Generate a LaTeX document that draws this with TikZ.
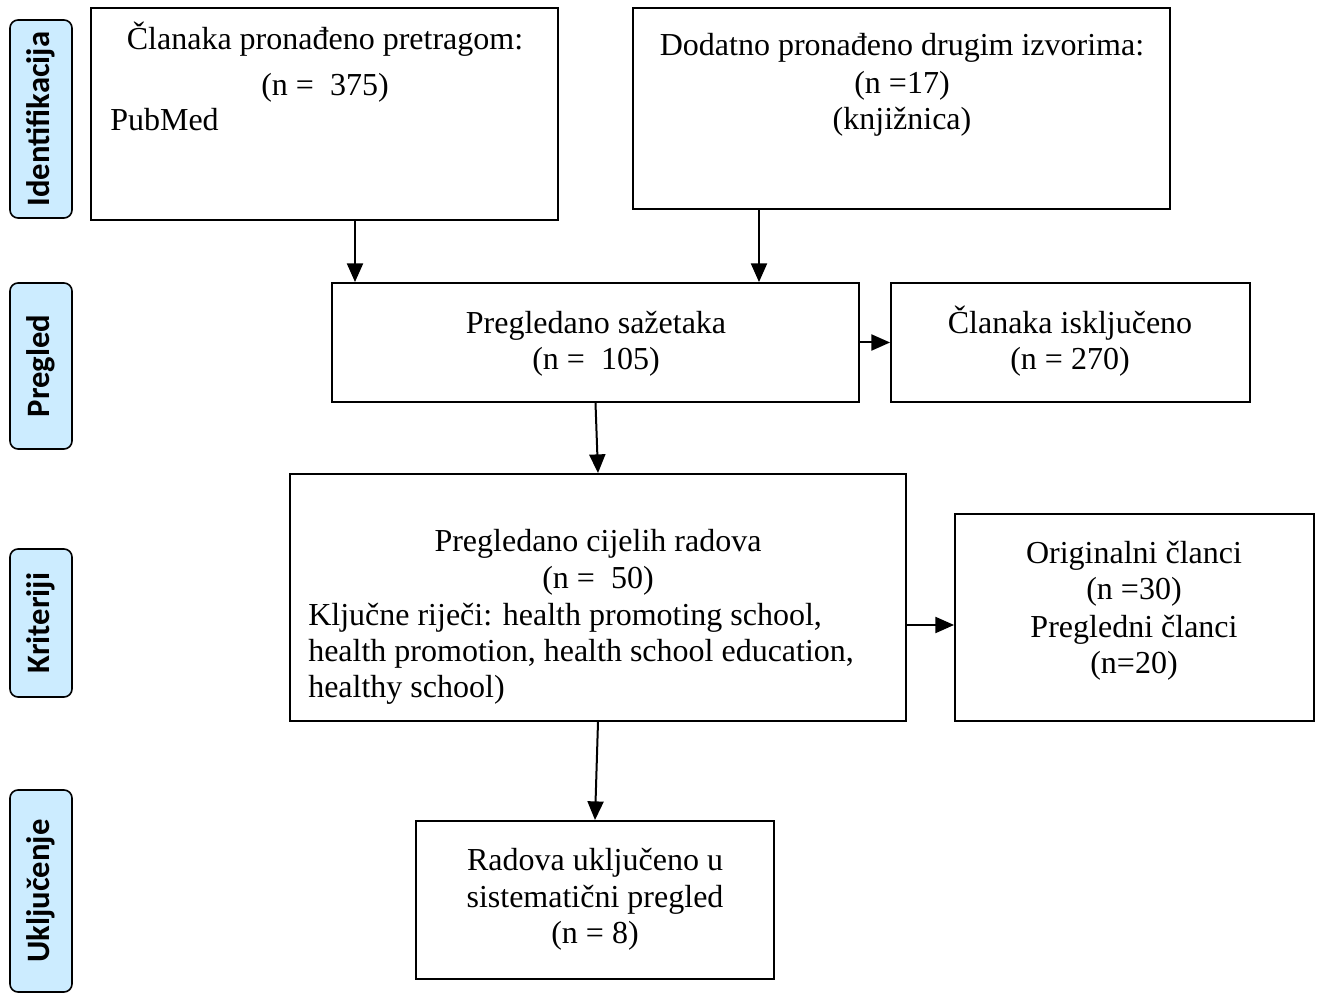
\documentclass[tikz,border=0pt]{standalone}
\usepackage{fontspec}
\setmainfont{Liberation Serif}
\newfontfamily\lblfont{Carlito}
\usetikzlibrary{arrows.meta,calc}
\definecolor{lblblue}{RGB}{204,236,255}
\begin{document}
\begin{tikzpicture}[x=0.75pt,y=-0.75pt,
  box/.style={draw,line width=1.4pt,inner sep=0pt,rectangle},
  lbl/.style={draw,line width=1.2pt,fill=lblblue,rounded corners=6pt,rotate=90,inner sep=0pt,minimum height=46.5pt,font=\lblfont\bfseries\fontsize{24.5}{28}\selectfont},
  txt/.style={anchor=base,inner sep=0pt,font=\fontsize{24}{28}\selectfont},
  txtl/.style={txt,anchor=base west},
  arr/.style={line width=1.5pt,-{Triangle[length=14pt,width=12pt]}}]
\useasboundingbox (0,0) rectangle (1322,994);
% side labels
\node[lbl,minimum width=148.5pt] (l1) at (41,119) {Identifikacija};
\node[lbl,minimum width=124.5pt] (l2) at (41,366) {Pregled};
\node[lbl,minimum width=111pt] (l3) at (41,623) {Kriteriji};
\node[lbl,minimum width=151.5pt] (l4) at (41,891) {Uključenje};
% boxes
\node[box,minimum width=350.25pt,minimum height=159pt] (b1) at (324.5,114) {};
\node[box,minimum width=402.75pt,minimum height=150.75pt] (b2) at (901.5,108.5) {};
\node[box,minimum width=395.25pt,minimum height=89.25pt] (b3) at (595.5,342.5) {};
\node[box,minimum width=269.25pt,minimum height=89.25pt] (b4) at (1070.5,342.5) {};
\node[box,minimum width=462pt,minimum height=185.25pt] (b5) at (598,597.5) {};
\node[box,minimum width=269.25pt,minimum height=155.25pt] (b6) at (1134.5,617.5) {};
\node[box,minimum width=268.5pt,minimum height=118.5pt] (b7) at (595,900) {};
% texts
\node[txt] (t11) at (325,50) {Članaka pronađeno pretragom:};
\node[txt] (t12) at (325,96) {(n = \ 375)};
\node[txtl] (t13) at (110,131) {PubMed};
\node[txt] (t21) at (902,56) {Dodatno pronađeno drugim izvorima:};
\node[txt] (t22) at (902,94) {(n =17)};
\node[txt] (t23) at (902,130) {(knjižnica)};
\node[txt] (t31) at (596,334) {Pregledano sažetaka};
\node[txt] (t32) at (596,370) {(n = \ 105)};
\node[txt] (t41) at (1070,334) {Članaka isključeno};
\node[txt] (t42) at (1070,370) {(n = 270)};
\node[txt] (t51) at (598,552) {Pregledano cijelih radova};
\node[txt] (t52) at (598,589) {(n = \ 50)};
\node[txtl] (t53) at (308,626) {Ključne riječi: health promoting school,};
\node[txtl] (t54) at (308,662) {health promotion, health school education,};
\node[txtl] (t55) at (308,698) {healthy school)};
\node[txt] (t61) at (1134,564) {Originalni članci};
\node[txt] (t62) at (1134,600) {(n =30)};
\node[txt] (t63) at (1134,638) {Pregledni članci};
\node[txt] (t64) at (1134,674) {(n=20)};
\node[txt] (t71) at (595,870) {Radova uključeno u};
\node[txt] (t72) at (595,907) {sistematični pregled};
\node[txt] (t73) at (595,943) {(n = 8)};
% arrows
\coordinate (c1) at (355,0);
\coordinate (c2) at (759,0);
\coordinate (c3) at (0,625);
\draw[arr] (b1.south -| c1) -- (b3.north -| c1);
\draw[arr] (b2.south -| c2) -- (b3.north -| c2);
\draw[arr] (b3.east) -- (b4.west);
\draw[arr] (b3.south) -- (b5.north);
\draw[arr] (b5.east |- c3) -- (b6.west |- c3);
\draw[arr] (b5.south) -- (b7.north);
\end{tikzpicture}
\end{document}
